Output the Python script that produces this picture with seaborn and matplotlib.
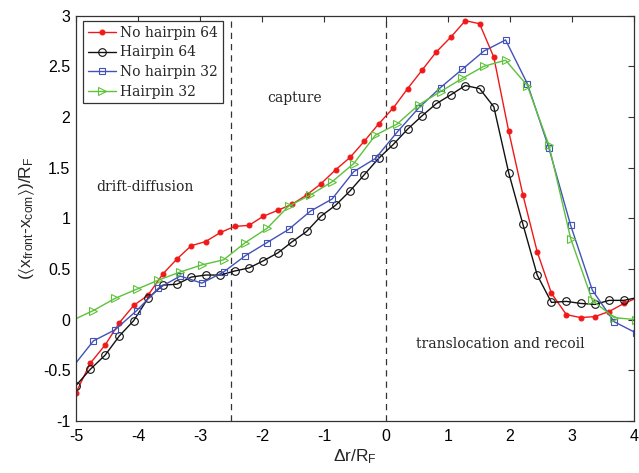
import matplotlib
matplotlib.use("Agg")
import matplotlib.pyplot as plt
import seaborn as sns

# ---- data ----
x64 = [-5.00, -4.77, -4.53, -4.30, -4.07, -3.84, -3.60, -3.37, -3.14, -2.91,
       -2.67, -2.44, -2.21, -1.98, -1.74, -1.51, -1.28, -1.05, -0.81, -0.58,
       -0.35, -0.12, 0.12, 0.35, 0.58, 0.81, 1.05, 1.28, 1.51, 1.74,
       1.98, 2.21, 2.44, 2.67, 2.91, 3.14, 3.37, 3.60, 3.84, 4.07]
no_hairpin_64 = [-0.72, -0.43, -0.25, -0.03, 0.14, 0.24, 0.45, 0.60, 0.73, 0.77,
                 0.86, 0.92, 0.93, 1.02, 1.08, 1.14, 1.23, 1.34, 1.48, 1.60,
                 1.76, 1.93, 2.09, 2.28, 2.46, 2.64, 2.79, 2.95, 2.92, 2.59,
                 1.86, 1.23, 0.67, 0.26, 0.05, 0.02, 0.03, 0.08, 0.16, 0.22]
hairpin_64 = [-0.65, -0.49, -0.35, -0.16, -0.01, 0.21, 0.34, 0.35, 0.42, 0.44,
              0.44, 0.48, 0.51, 0.58, 0.66, 0.77, 0.87, 1.02, 1.13, 1.27,
              1.43, 1.59, 1.73, 1.88, 2.01, 2.13, 2.22, 2.31, 2.28, 2.10,
              1.45, 0.94, 0.44, 0.17, 0.18, 0.16, 0.15, 0.19, 0.19, 0.22]

x32 = [-5.07, -4.72, -4.37, -4.02, -3.67, -3.32, -2.97, -2.62, -2.27, -1.92,
       -1.57, -1.22, -0.87, -0.52, -0.17, 0.18, 0.53, 0.88, 1.23, 1.58,
       1.93, 2.28, 2.63, 2.98, 3.33, 3.68, 4.03]
no_hairpin_32 = [-0.48, -0.21, -0.10, 0.09, 0.31, 0.43, 0.36, 0.47, 0.63, 0.76,
                 0.89, 1.07, 1.19, 1.46, 1.59, 1.85, 2.09, 2.29, 2.47, 2.65,
                 2.76, 2.33, 1.69, 0.93, 0.29, -0.02, -0.13]
hairpin_32 = [-0.01, 0.09, 0.21, 0.30, 0.39, 0.47, 0.54, 0.59, 0.76, 0.90,
              1.12, 1.23, 1.36, 1.54, 1.82, 1.93, 2.12, 2.25, 2.38, 2.50,
              2.56, 2.31, 1.72, 0.80, 0.19, 0.02, 0.00]

series_labels = ["No hairpin 64", "Hairpin 64", "No hairpin 32", "Hairpin 32"]
xticks = [-5, -4, -3, -2, -1, 0, 1, 2, 3, 4]
xtick_labels = ["-5", "-4", "-3", "-2", "-1", "0", "1", "2", "3", "4"]
yticks = [-1, -0.5, 0, 0.5, 1, 1.5, 2, 2.5, 3]
ytick_labels = ["-1", "-0.5", "0", "0.5", "1", "1.5", "2", "2.5", "3"]
region_bounds = [-2.5, 0]
region_names = ["drift-diffusion", "capture", "translocation and recoil"]

# ---- style ----
sns.set_theme(style="white")
plt.rcParams.update({
    "font.family": ["Liberation Sans", "DejaVu Sans"],
    "mathtext.default": "regular",
    "axes.edgecolor": "#333333",
    "axes.linewidth": 0.9,
    "xtick.direction": "in",
    "ytick.direction": "in",
    "xtick.top": True,
    "ytick.right": True,
    "xtick.major.size": 4,
    "ytick.major.size": 4,
    "xtick.major.width": 0.8,
    "ytick.major.width": 0.8,
    "xtick.color": "#333333",
    "ytick.color": "#333333",
    "xtick.labelcolor": "black",
    "ytick.labelcolor": "black",
    "xtick.labelsize": 11.5,
    "ytick.labelsize": 11.5,
    "xtick.major.pad": 6,
    "ytick.major.pad": 4,
})

fig = plt.figure(figsize=(6.39, 4.73), dpi=100)
ax = fig.add_axes([0.119, 0.110, 0.873, 0.857])

styles = [
    dict(color="#f01818", marker="o", markersize=3.5, mfc="#f01818", mec="#f01818", mew=0.8),
    dict(color="#111111", marker="o", markersize=5.5, mfc="none", mec="#111111", mew=0.8),
    dict(color="#4252b8", marker="s", markersize=4.5, mfc="none", mec="#4252b8", mew=0.8),
    dict(color="#5cc23a", marker=">", markersize=6, mfc="none", mec="#5cc23a", mew=0.8),
]
data = [(x64, no_hairpin_64), (x64, hairpin_64), (x32, no_hairpin_32), (x32, hairpin_32)]

for (xs, ys), lab, st in zip(data, series_labels, styles):
    sns.lineplot(x=xs, y=ys, ax=ax, label=lab, sort=False, estimator=None,
                 linewidth=1.0, **st)

for xb in region_bounds:
    ax.axvline(xb, color="#333333", linestyle=(0, (5, 4)), linewidth=0.9, zorder=1)

serif = {"family": ["DejaVu Serif"], "size": 10}
ax.text(-3.89, 1.31, region_names[0], ha="center", va="center", fontdict=serif)
ax.text(-1.48, 2.19, region_names[1], ha="center", va="center", fontdict=serif)
ax.text(1.84, -0.24, region_names[2], ha="center", va="center", fontdict=serif)

ax.set_xlim(-5, 4)
ax.set_ylim(-1, 3)
ax.set_xticks(xticks)
ax.set_xticklabels(xtick_labels)
ax.set_yticks(yticks)
ax.set_yticklabels(ytick_labels)
ax.set_xlabel(r"$\Delta r/R_F$", fontsize=12.5, labelpad=2)
ax.set_ylabel(r"$(\langle x_{front}$-$x_{com}\rangle)/R_F$", fontsize=12.5, labelpad=4)

leg = ax.legend(loc="upper left", bbox_to_anchor=(83 / 639, 1 - 21 / 473),
                bbox_transform=fig.transFigure, frameon=True, fancybox=False,
                framealpha=1, edgecolor="#333333", prop={"family": "DejaVu Serif", "size": 10},
                handlelength=2.0, handletextpad=0.3, labelspacing=0.4,
                borderpad=0.35, borderaxespad=0)
leg.get_frame().set_linewidth(0.9)

fig.savefig("out.png", dpi=100)
